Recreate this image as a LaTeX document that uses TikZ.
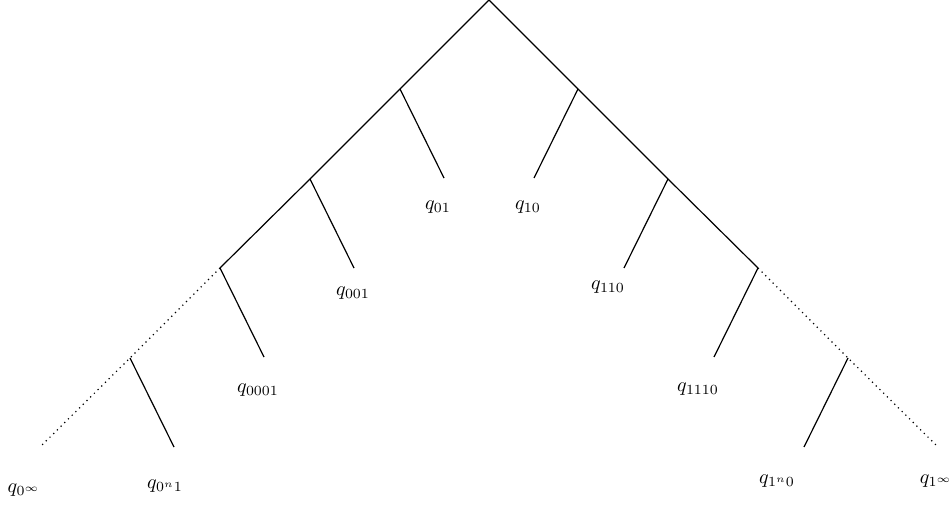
\documentclass[tikz,border=0pt]{standalone}
\begin{document}
\begin{tikzpicture}[x=0.5pt,y=-0.5pt,
  edge/.style={line width=0.6pt},
  dotedge/.style={line width=0.6pt,dotted},
  lbl/.style={inner sep=0pt}]
\useasboundingbox (0,0) rectangle (952,508);
% spine
\coordinate (root) at (489,0);
\coordinate (l1) at (400,89);
\coordinate (l2) at (310,179);
\coordinate (l3) at (220,268);
\coordinate (l4) at (130,358);
\coordinate (l5) at (40,447);
\coordinate (r1) at (578,89);
\coordinate (r2) at (668,179);
\coordinate (r3) at (758,268);
\coordinate (r4) at (848,358);
\coordinate (r5) at (938,447);
% branch ends
\coordinate (a1) at (444,178);
\coordinate (a2) at (354,268);
\coordinate (a3) at (264,357);
\coordinate (a4) at (174,447);
\coordinate (b1) at (534,178);
\coordinate (b2) at (624,268);
\coordinate (b3) at (714,357);
\coordinate (b4) at (804,447);
\draw[edge] (l3) -- (l2) -- (l1) -- (root) -- (r1) -- (r2) -- (r3);
\draw[dotedge] (l3) -- (l4) -- (l5);
\draw[dotedge] (r3) -- (r4) -- (r5);
\draw[edge] (l1) -- (a1);
\draw[edge] (l2) -- (a2);
\draw[edge] (l3) -- (a3);
\draw[edge] (l4) -- (a4);
\draw[edge] (r1) -- (b1);
\draw[edge] (r2) -- (b2);
\draw[edge] (r3) -- (b3);
\draw[edge] (r4) -- (b4);
% labels
\node[lbl] (q01) at (438,207) {$q_{01}$};
\node[lbl] (q10) at (528,207) {$q_{10}$};
\node[lbl] (q001) at (353,293) {$q_{001}$};
\node[lbl] (q110) at (608,287) {$q_{110}$};
\node[lbl] (q0001) at (258,390) {$q_{0001}$};
\node[lbl] (q1110) at (698,389) {$q_{1110}$};
\node[lbl] (q0n1) at (165,486) {$q_{0^n1}$};
\node[lbl] (q1n0) at (777,481) {$q_{1^n0}$};
\node[lbl] (q0inf) at (24,490) {$q_{0^\infty}$};
\node[lbl] (q1inf) at (936,481) {$q_{1^\infty}$};
\end{tikzpicture}
\end{document}
